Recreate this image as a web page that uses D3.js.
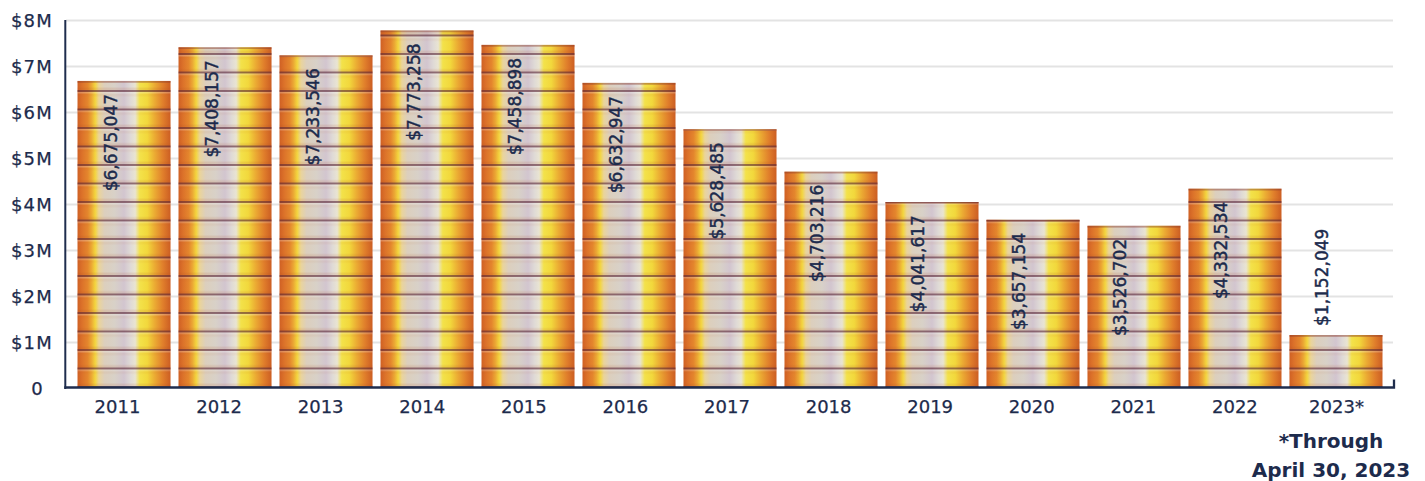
<!DOCTYPE html>
<html>
<head>
<meta charset="utf-8">
<script src="https://cdn.jsdelivr.net/npm/d3@7"></script>
<style>
  html, body { margin: 0; padding: 0; background: #ffffff; }
  svg { display: block; }
  text { font-family: "DejaVu Sans", sans-serif; fill: #1d2b4c; }
</style>
</head>
<body>
<svg id="chart" width="1425" height="481"></svg>
<script>
// ---- data ----
const years = ["2011","2012","2013","2014","2015","2016","2017","2018","2019","2020","2021","2022","2023*"];
const values = [6675047, 7408157, 7233546, 7773258, 7458898, 6632947, 5628485, 4703216, 4041617, 3657154, 3526702, 4332534, 1152049];
const yTicks = [0, 1000000, 2000000, 3000000, 4000000, 5000000, 6000000, 7000000, 8000000];
const yTickLabels = ["0", "$1M", "$2M", "$3M", "$4M", "$5M", "$6M", "$7M", "$8M"];
const footnote = ["*Through", "April 30, 2023"];

const data = years.map((yr, i) => ({ year: yr, value: values[i] }));

const svg = d3.select("#chart");
const pLeft = 66, pRight = 1394, pTop = 20, pBottom = 388;

const x = d3.scaleBand().domain(years).range([pLeft, pRight]).paddingInner(0.079).paddingOuter(0.114);
const xLab = d3.scalePoint().domain(years).range([117, 1336]);
const y = d3.scaleLinear().domain([0, 8000000]).range([pBottom, pTop]);

// ---- defs: coin gradient + coin edge pattern ----
const defs = svg.append("defs");
const grad = defs.append("linearGradient").attr("id", "coinGrad")
  .attr("x1", "0%").attr("x2", "100%").attr("y1", "0%").attr("y2", "0%");
[
  [0, "#cf6024"], [0.05, "#dc722a"], [0.11, "#e4862d"], [0.15, "#eba834"],
  [0.19, "#f3d53e"], [0.23, "#ead49a"], [0.29, "#dccfbd"], [0.40, "#d8d1c8"],
  [0.5, "#d2c5cf"], [0.57, "#dfdad6"], [0.62, "#e9e4d2"], [0.67, "#f3e24a"],
  [0.75, "#f2d83c"], [0.83, "#ebab33"], [0.92, "#e07e2b"], [1, "#cc5e23"]
].forEach(([o, c]) => grad.append("stop").attr("offset", o).attr("stop-color", c));

const pitch = 18.5;
const pat = defs.append("pattern").attr("id", "coinEdges")
  .attr("patternUnits", "userSpaceOnUse")
  .attr("x", 0).attr("y", pBottom - 2).attr("width", 20).attr("height", pitch);
pat.append("rect").attr("x", 0).attr("y", pitch - 2.4).attr("width", 20).attr("height", 2.4)
  .attr("fill", "#b04a20").attr("opacity", 0.12);
pat.append("rect").attr("x", 0).attr("y", 0).attr("width", 20).attr("height", 2)
  .attr("fill", "#5b2536").attr("opacity", 0.62);
pat.append("rect").attr("x", 0).attr("y", 2).attr("width", 20).attr("height", 1.4)
  .attr("fill", "#ffffff").attr("opacity", 0.25);
pat.append("rect").attr("x", 0).attr("y", 3.4).attr("width", 20).attr("height", 3)
  .attr("fill", "#b05a20").attr("opacity", 0.06);

// ---- gridlines ----
svg.append("g").attr("class", "grid")
  .attr("transform", `translate(${pLeft},0)`)
  .call(d3.axisLeft(y).tickValues(yTicks).tickSize(-(pRight - pLeft - 1)).tickFormat(""))
  .call(g => g.select(".domain").remove())
  .call(g => g.selectAll("line").attr("stroke", "#e3e3e3").attr("stroke-width", 2))
  .call(g => g.selectAll(".tick").filter(d => d === 0).remove());

// ---- y tick labels ----
svg.append("g").attr("class", "yaxis")
  .attr("transform", `translate(${pLeft},0)`)
  .call(d3.axisLeft(y).tickValues(yTicks).tickSize(0).tickPadding(13)
    .tickFormat((d, i) => yTickLabels[i]))
  .call(g => g.select(".domain").remove())
  .call(g => g.selectAll("text").style("font-size", "18px").style("letter-spacing", "1.2px")
    .attr("fill", "#1d2b4c").attr("stroke", "#1d2b4c").attr("stroke-width", 0.25).attr("dy", "0.36em"))
  .call(g => g.selectAll(".tick").filter(d => d === 0).select("text").attr("x", -22));

// ---- bars ----
const bars = svg.append("g").attr("class", "bars");
bars.selectAll("rect.bar").data(data).join("rect").attr("class", "bar")
  .attr("x", d => x(d.year)).attr("width", x.bandwidth())
  .attr("y", d => y(d.value)).attr("height", d => y(0) - y(d.value))
  .attr("fill", "url(#coinGrad)");
bars.selectAll("rect.edges").data(data).join("rect").attr("class", "edges")
  .attr("x", d => x(d.year)).attr("width", x.bandwidth())
  .attr("y", d => y(d.value)).attr("height", d => y(0) - y(d.value))
  .attr("fill", "url(#coinEdges)");
bars.selectAll("rect.cap").data(data).join("rect").attr("class", "cap")
  .attr("x", d => x(d.year)).attr("width", x.bandwidth())
  .attr("y", d => y(d.value)).attr("height", 1.8)
  .attr("fill", "#8a3a2a").attr("opacity", 0.45);

// ---- value labels ----
const fmt = d3.format("$,");
const labels = svg.append("g").attr("class", "vlabels");
labels.selectAll("text").data(data).join("text")
  .text(d => fmt(d.value))
  .style("font-size", "17px")
  .attr("fill", "#1a2a4c").attr("stroke", "#1a2a4c").attr("stroke-width", 0.45)
  .each(function(d) {
    const len = this.getComputedTextLength();
    const h = y(0) - y(d.value);
    const cx = x(d.year) + x.bandwidth() / 2 - 7.5;
    const sel = d3.select(this);
    if (h > len + 24) {
      sel.attr("text-anchor", "end")
        .attr("transform", `translate(${cx},${y(d.value) + 13}) rotate(-90)`);
    } else {
      sel.attr("text-anchor", "start")
        .attr("transform", `translate(${cx},${y(d.value) - 9}) rotate(-90)`);
    }
  });

// ---- axis lines ----
const axisColor = "#1f2d4d";
svg.append("line").attr("x1", 65.3).attr("x2", 65.3).attr("y1", pTop).attr("y2", pBottom + 1)
  .attr("stroke", axisColor).attr("stroke-width", 2);
svg.append("path")
  .attr("d", `M64.3,${pBottom - 0.5}H${pRight}V${pBottom - 8.5}`)
  .attr("fill", "none").attr("stroke", axisColor).attr("stroke-width", 2.3);

// ---- x labels ----
svg.append("g").attr("class", "xaxis")
  .attr("transform", `translate(0,${pBottom})`)
  .call(d3.axisBottom(xLab).tickSize(0).tickPadding(12))
  .call(g => g.select(".domain").remove())
  .call(g => g.selectAll("text").style("font-size", "18px").attr("fill", "#1d2b4c")
    .attr("stroke", "#1d2b4c").attr("stroke-width", 0.25));

// ---- footnote ----
svg.append("g").attr("class", "footnote")
  .selectAll("text").data(footnote).join("text")
  .attr("x", 1331).attr("y", (d, i) => 448 + i * 28.5)
  .attr("text-anchor", "middle")
  .style("font-size", "20px").style("font-weight", "bold")
  .attr("fill", "#1d2b4c")
  .text(d => d);
</script>
</body>
</html>
